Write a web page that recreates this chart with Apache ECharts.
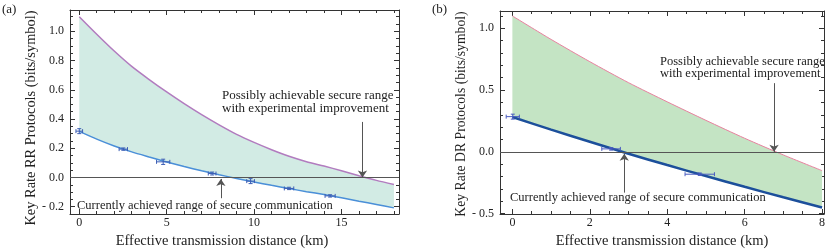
<!DOCTYPE html>
<html><head><meta charset="utf-8">
<script src="https://cdn.jsdelivr.net/npm/echarts@6/dist/echarts.min.js"></script>
<style>html,body{margin:0;padding:0;background:#fff}#c{width:830px;height:251px}</style>
</head><body><div id="c"></div>
<script>
// ---------- Panel (a): RR protocols ----------
const distA   = [0,1,2,3,4,5,6,7,8,9,10,11,12,13,14,15,16,17,18];
const upperA  = [1.10,0.98,0.865,0.76,0.67,0.585,0.505,0.43,0.36,0.295,0.24,0.19,0.145,0.108,0.078,0.046,0.012,-0.02,-0.048];
const lowerA  = [0.315,0.262,0.215,0.175,0.14,0.106,0.075,0.046,0.019,-0.007,-0.031,-0.054,-0.076,-0.097,-0.117,-0.139,-0.162,-0.185,-0.208];
const expAx   = [0.0,2.52,4.8,7.6,9.8,12.0,14.35];
const expAy   = [0.317,0.194,0.107,0.027,-0.025,-0.075,-0.126];
const expAxe  = [0.19,0.24,0.38,0.22,0.22,0.27,0.29];
const expAye  = [0.017,0.008,0.018,0.01,0.017,0.008,0.008];
const ticksAx = [0,5,10,15];
const ticksAy = [-0.2,0.0,0.2,0.4,0.6,0.8,1.0];

// ---------- Panel (b): DR protocols ----------
const distB   = [0,1,2,3,4,5,6,7,8];
const upperB  = [1.10,0.91,0.73,0.56,0.405,0.255,0.11,-0.025,-0.152];
const lowerB  = [0.282,0.18,0.082,-0.015,-0.107,-0.196,-0.283,-0.368,-0.45];
const expBx   = [0.01,2.55,4.84];
const expBy   = [0.285,0.024,-0.181];
const expBxe  = [0.17,0.24,0.38];
const expBye  = [0.02,0.01,0.01];
const ticksBx = [0,2,4,6,8];
const ticksBy = [-0.5,0.0,0.5,1.0];

const FONT = 'Liberation Serif';
const AX = '#333';

function minorVals(min, max, step, majors) {
  const out = [];
  const s = Math.ceil(min / step - 1e-9);
  for (let k = s; k * step <= max + 1e-9; k++) {
    const v = +(k * step).toFixed(6);
    if (!majors.some(m => Math.abs(m - v) < 1e-6)) out.push(v);
  }
  return out;
}
function yFmt(v) { return v < 0 ? '- ' + Math.abs(v).toFixed(1) : v.toFixed(1); }
function buildAxes(dim, gi, min, max, major, minor, fmt, fontSize, margin) {
  const pos = dim === 'x' ? ['bottom', 'top'] : ['left', 'right'];
  const base = { type: 'value', gridIndex: gi, min, max, splitLine: { show: false }, axisPointer: { show: false } };
  const line = { show: true, onZero: false, lineStyle: { color: AX, width: 1 } };
  const noLine = { show: false, onZero: false };
  const majT = { show: true, inside: true, length: 5, customValues: major, lineStyle: { color: AX, width: 1 } };
  const minT = { show: true, inside: true, length: 3, customValues: minor, lineStyle: { color: AX, width: 1 } };
  return [
    Object.assign({}, base, { position: pos[0], axisLine: line, axisTick: majT,
      axisLabel: { show: true, customValues: major, formatter: fmt, margin, fontFamily: FONT, fontSize, color: '#222' } }),
    Object.assign({}, base, { position: pos[0], axisLine: noLine, axisTick: minT, axisLabel: { show: false } }),
    Object.assign({}, base, { position: pos[1], axisLine: line, axisTick: majT, axisLabel: { show: false } }),
    Object.assign({}, base, { position: pos[1], axisLine: noLine, axisTick: minT, axisLabel: { show: false } })
  ];
}

const axA = { xmin: -0.53, xmax: 18.29, ymin: -0.25, ymax: 1.146 };
const axB = { xmin: -0.32, xmax: 8.05, ymin: -0.503, ymax: 1.14 };

const xAxes = [].concat(
  buildAxes('x', 0, axA.xmin, axA.xmax, ticksAx, minorVals(axA.xmin, axA.xmax, 1, ticksAx), v => String(v), 12, 3),
  buildAxes('x', 1, axB.xmin, axB.xmax, ticksBx, minorVals(axB.xmin, axB.xmax, 0.5, ticksBx), v => String(v), 12, 3)
);
const yAxes = [].concat(
  buildAxes('y', 0, axA.ymin, axA.ymax, ticksAy, minorVals(axA.ymin, axA.ymax, 0.05, ticksAy), yFmt, 12, 6),
  buildAxes('y', 1, axB.ymin, axB.ymax, ticksBy, minorVals(axB.ymin, axB.ymax, 0.1, ticksBy), yFmt, 12, 6)
);

function fillSeries(xi, xs, up, lo, color) {
  return {
    type: 'custom', xAxisIndex: xi, yAxisIndex: xi, data: [[xs[0], up[0]]], clip: true, z: 1, silent: true,
    renderItem: function (params, api) {
      const pts = [];
      for (let i = 0; i < xs.length; i++) pts.push(api.coord([xs[i], up[i]]));
      for (let i = xs.length - 1; i >= 0; i--) pts.push(api.coord([xs[i], lo[i]]));
      return { type: 'polygon', shape: { points: pts }, style: { fill: color } };
    }
  };
}
function lineSeries(xi, xs, ys, color, width, z) {
  return { type: 'line', xAxisIndex: xi, yAxisIndex: xi, data: xs.map((x, i) => [x, ys[i]]),
    showSymbol: false, symbol: 'none', smooth: 0.25, lineStyle: { color, width }, z, silent: true, animation: false };
}
function errSeries(xi, xs, ys, xe, ye, color) {
  return {
    type: 'custom', xAxisIndex: xi, yAxisIndex: xi, z: 6, silent: true,
    data: xs.map((x, i) => [x, ys[i], xe[i], ye[i]]),
    encode: { x: 0, y: 1 },
    renderItem: function (params, api) {
      const x = api.value(0), y = api.value(1), ex = api.value(2), ey = api.value(3);
      const l = api.coord([x - ex, y]), r = api.coord([x + ex, y]);
      const t = api.coord([x, y + ey]), b = api.coord([x, y - ey]);
      const c = 2;
      const st = { stroke: color, lineWidth: 1 };
      const seg = (a, bb) => ({ type: 'line', shape: { x1: a[0], y1: a[1], x2: bb[0], y2: bb[1] }, style: st });
      return { type: 'group', children: [
        seg(l, r), seg(t, b),
        seg([l[0], l[1] - c], [l[0], l[1] + c]), seg([r[0], r[1] - c], [r[0], r[1] + c]),
        seg([t[0] - c, t[1]], [t[0] + c, t[1]]), seg([b[0] - c, b[1]], [b[0] + c, b[1]])
      ] };
    }
  };
}
function zeroAndArrows(xi, arrows) {
  return {
    type: 'line', xAxisIndex: xi, yAxisIndex: xi, data: [], z: 5, silent: true,
    markLine: {
      silent: true, animation: false, symbol: ['none', 'none'], label: { show: false },
      lineStyle: { color: '#555', width: 1, type: 'solid' },
      data: [{ yAxis: 0 }].concat(arrows.map(a => [
        { coord: [a[0], a[1]], symbol: 'none' },
        { coord: [a[0], a[2]], symbol: 'arrow', symbolSize: 7 }
      ]))
    }
  };
}

const option = {
  animation: false,
  grid: [
    { left: 70, top: 10, width: 329, height: 204 },
    { left: 500, top: 11, width: 324, height: 203 }
  ],
  xAxis: xAxes,
  yAxis: yAxes,
  series: [
    fillSeries(0, distA, upperA, lowerA, '#d2ebe4'),
    lineSeries(0, distA, upperA, '#b27cbf', 1.5, 3),
    lineSeries(0, distA, lowerA, '#4a8fd8', 1.5, 3),
    errSeries(0, expAx, expAy, expAxe, expAye, '#3d5fb5'),
    zeroAndArrows(0, [[16.2, 0.38, 0.0], [8.1, -0.142, -0.01]]),
    fillSeries(4, distB, upperB, lowerB, '#c4e4c4'),
    lineSeries(4, distB, upperB, '#e8819f', 1, 3),
    lineSeries(4, distB, lowerB, '#1c4f9b', 2.5, 3),
    errSeries(4, expBx, expBy, expBxe, expBye, '#4a5cc0'),
    zeroAndArrows(4, [[6.76, 0.556, 0.0], [2.89, -0.33, -0.015]])
  ],
  graphic: [
    { type: 'text', x: 2, y: 10, style: { text: '(a)', font: '13px "Liberation Serif"', fill: '#222', verticalAlign: 'middle' } },
    { type: 'text', x: 432, y: 10, style: { text: '(b)', font: '13px "Liberation Serif"', fill: '#222', verticalAlign: 'middle' } },
    { type: 'text', x: 31, y: 118, rotation: Math.PI / 2, style: { text: 'Key Rate RR Protocols (bits/symbol)', font: '14.4px "Liberation Serif"', fill: '#222', align: 'center', verticalAlign: 'middle' } },
    { type: 'text', x: 461, y: 114, rotation: Math.PI / 2, style: { text: 'Key Rate DR Protocols (bits/symbol)', font: '13.7px "Liberation Serif"', fill: '#222', align: 'center', verticalAlign: 'middle' } },
    { type: 'text', x: 222, y: 241, style: { text: 'Effective transmission distance (km)', font: '14.5px "Liberation Serif"', fill: '#222', align: 'center', verticalAlign: 'middle' } },
    { type: 'text', x: 662, y: 241, style: { text: 'Effective transmission distance (km)', font: '14.5px "Liberation Serif"', fill: '#222', align: 'center', verticalAlign: 'middle' } },
    { type: 'text', x: 222, y: 96, style: { text: 'Possibly achievable secure range', font: '13px "Liberation Serif"', fill: '#222', verticalAlign: 'middle' } },
    { type: 'text', x: 222, y: 109, style: { text: 'with experimental improvement', font: '13px "Liberation Serif"', fill: '#222', verticalAlign: 'middle' } },
    { type: 'text', x: 77, y: 206, style: { text: 'Currently achieved range of secure communication', font: '12.5px "Liberation Serif"', fill: '#222', verticalAlign: 'middle' } },
    { type: 'text', x: 660, y: 62, style: { text: 'Possibly achievable secure range', font: '12.5px "Liberation Serif"', fill: '#222', verticalAlign: 'middle' } },
    { type: 'text', x: 660, y: 74, style: { text: 'with experimental improvement', font: '12.5px "Liberation Serif"', fill: '#222', verticalAlign: 'middle' } },
    { type: 'text', x: 510, y: 198, style: { text: 'Currently achieved range of secure communication', font: '12.5px "Liberation Serif"', fill: '#222', verticalAlign: 'middle' } }
  ]
};
const chart = echarts.init(document.getElementById('c'), null, { renderer: 'canvas' });
chart.setOption(option);
</script>
</body></html>
